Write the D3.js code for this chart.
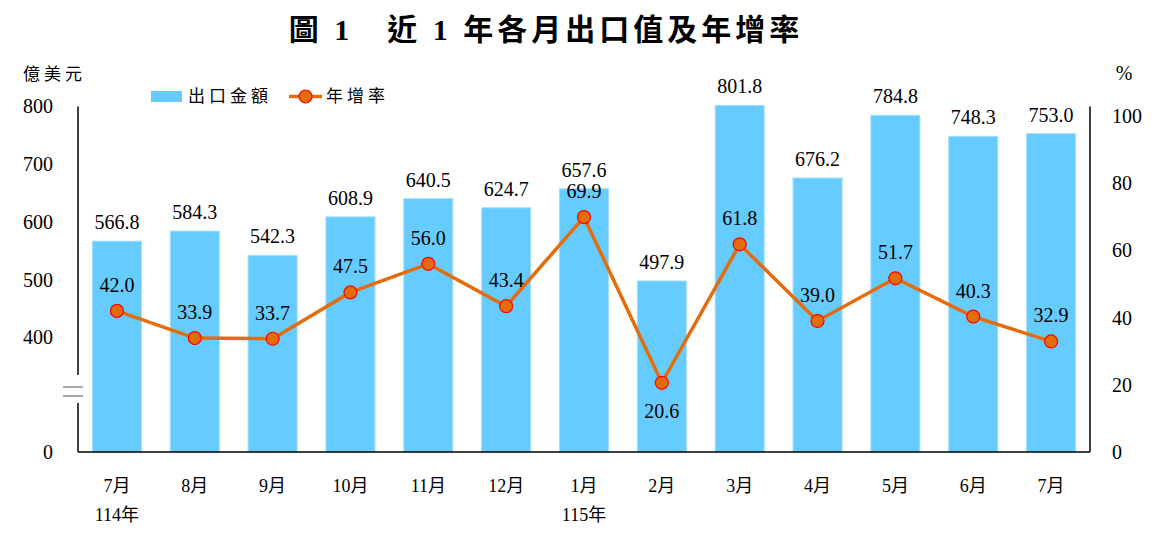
<!DOCTYPE html>
<html>
<head>
<meta charset="utf-8">
<script src="https://cdn.jsdelivr.net/npm/d3@7"></script>
<style>
  body { margin: 0; background: #fff; }
</style>
</head>
<body>
<div id="root"></div>
<script>
const months = ["7月", "8月", "9月", "10月", "11月", "12月", "1月", "2月", "3月", "4月", "5月", "6月", "7月"];
const years = ["114年", "", "", "", "", "", "115年", "", "", "", "", "", ""];
const exportValues = [566.8, 584.3, 542.3, 608.9, 640.5, 624.7, 657.6, 497.9, 801.8, 676.2, 784.8, 748.3, 753.0];
const growthRates = [42.0, 33.9, 33.7, 47.5, 56.0, 43.4, 69.9, 20.6, 61.8, 39.0, 51.7, 40.3, 32.9];
const leftTicks = [0, 400, 500, 600, 700, 800];
const rightTicks = [0, 20, 40, 60, 80, 100];

const w = 1152;
const h = 536;
const left = 78;
const right = 1090;
const bottom = 452;

const barColor = "#66CCFF";
const lineColor = "#E46C0A";
const font = "'Liberation Serif', 'Times New Roman', 'Noto Sans CJK TC', serif";

const svg = d3.select("#root")
    .append("svg")
    .attr("width", w)
    .attr("height", h)
    .style("font-family", font);

const x = d3.scaleBand()
    .domain(d3.range(months.length))
    .range([left, right])
    .paddingInner(0.37)
    .paddingOuter(0.185);

// broken axis: 0..400 squeezed into the bottom piece
const yLeft = d3.scaleLinear()
    .domain([0, 400, 800])
    .range([bottom, 337.5, 106.5]);

const yRight = d3.scaleLinear()
    .domain([0, 100])
    .range([bottom, 116]);

// title
svg.append("text")
    .attr("x", 546)
    .attr("y", 40)
    .attr("text-anchor", "middle")
    .style("font-family", font)
    .style("font-size", "30px")
    .style("font-weight", "bold")
    .style("letter-spacing", "4px")
    .text("圖 1　近 1 年各月出口值及年增率");

// unit labels
svg.append("text")
    .attr("x", 23)
    .attr("y", 80)
    .style("font-family", font)
    .style("font-size", "17px")
    .style("letter-spacing", "4px")
    .text("億美元");

svg.append("text")
    .attr("x", 1124)
    .attr("y", 80)
    .attr("text-anchor", "middle")
    .style("font-family", font)
    .style("font-size", "20px")
    .text("%");

// bars
svg.selectAll("rect.bar")
    .data(exportValues)
    .enter()
    .append("rect")
    .attr("class", "bar")
    .attr("x", (d, i) => x(i))
    .attr("y", d => yLeft(d))
    .attr("width", x.bandwidth())
    .attr("height", d => bottom - yLeft(d))
    .attr("fill", barColor)
    .attr("stroke", "#A6DEFA")
    .attr("stroke-width", 1);

// bar labels
svg.selectAll("text.barlabel")
    .data(exportValues)
    .enter()
    .append("text")
    .attr("class", "barlabel")
    .attr("x", (d, i) => x(i) + x.bandwidth() / 2)
    .attr("y", d => yLeft(d) - 12)
    .attr("text-anchor", "middle")
    .style("font-family", font)
    .style("font-size", "20px")
    .text(d => d.toFixed(1));

// axes
const axisL = d3.axisLeft(yLeft).tickValues(leftTicks).tickSize(0).tickPadding(25);
svg.append("g")
    .attr("transform", "translate(" + left + ",0)")
    .call(axisL)
    .call(g => g.select(".domain").remove())
    .call(g => g.selectAll("text").style("font-family", font).style("font-size", "20px").attr("fill", "#000"));

const axisR = d3.axisRight(yRight).tickValues(rightTicks).tickSize(0).tickPadding(22);
svg.append("g")
    .attr("transform", "translate(" + right + ",0)")
    .call(axisR)
    .call(g => g.select(".domain").remove())
    .call(g => g.selectAll("text").style("font-family", font).style("font-size", "20px").attr("fill", "#000"));

// axis lines with the break on the left
const axisLines = [
    [left, 106.5, left, 375],
    [left, 403, left, bottom],
    [right, 106.5, right, bottom],
    [left, bottom, right, bottom],
    [63, 387, 83, 387],
    [63, 396, 83, 396]
];
svg.selectAll("line.axis")
    .data(axisLines)
    .enter()
    .append("line")
    .attr("x1", d => d[0])
    .attr("y1", d => d[1])
    .attr("x2", d => d[2])
    .attr("y2", d => d[3])
    .attr("stroke", (d, i) => i >= 4 ? "#555" : "#000")
    .attr("stroke-width", (d, i) => i >= 4 ? 1 : 1.5);

// x labels
svg.selectAll("text.month")
    .data(months)
    .enter()
    .append("text")
    .attr("x", (d, i) => x(i) + x.bandwidth() / 2)
    .attr("y", 492)
    .attr("text-anchor", "middle")
    .style("font-family", font)
    .style("font-size", "18px")
    .text(d => d);

svg.selectAll("text.year")
    .data(years)
    .enter()
    .append("text")
    .attr("x", (d, i) => x(i) + x.bandwidth() / 2)
    .attr("y", 521)
    .attr("text-anchor", "middle")
    .style("font-family", font)
    .style("font-size", "18px")
    .text(d => d);

// growth line
const line = d3.line()
    .x((d, i) => x(i) + x.bandwidth() / 2)
    .y(d => yRight(d));

svg.append("path")
    .datum(growthRates)
    .attr("d", line)
    .attr("fill", "none")
    .attr("stroke", lineColor)
    .attr("stroke-width", 3.5);

svg.selectAll("circle.pt")
    .data(growthRates)
    .enter()
    .append("circle")
    .attr("cx", (d, i) => x(i) + x.bandwidth() / 2)
    .attr("cy", d => yRight(d))
    .attr("r", 6.5)
    .attr("fill", lineColor)
    .attr("stroke", "#FF0000")
    .attr("stroke-width", 1.2);

svg.selectAll("text.rate")
    .data(growthRates)
    .enter()
    .append("text")
    .attr("x", (d, i) => x(i) + x.bandwidth() / 2)
    .attr("y", (d, i) => i === 7 ? yRight(d) + 35 : yRight(d) - 19)
    .attr("text-anchor", "middle")
    .style("font-family", font)
    .style("font-size", "20px")
    .text(d => d.toFixed(1));

// legend
const legend = svg.append("g");
legend.append("rect")
    .attr("x", 151)
    .attr("y", 91)
    .attr("width", 31)
    .attr("height", 11)
    .attr("fill", barColor);
legend.append("text")
    .attr("x", 188)
    .attr("y", 102)
    .style("font-family", font)
    .style("font-size", "17px")
    .style("letter-spacing", "4px")
    .text("出口金額");
legend.append("line")
    .attr("x1", 289)
    .attr("x2", 322)
    .attr("y1", 96.5)
    .attr("y2", 96.5)
    .attr("stroke", lineColor)
    .attr("stroke-width", 3.5);
legend.append("circle")
    .attr("cx", 305.5)
    .attr("cy", 96.5)
    .attr("r", 6.5)
    .attr("fill", lineColor)
    .attr("stroke", "#FF0000")
    .attr("stroke-width", 1.2);
legend.append("text")
    .attr("x", 326)
    .attr("y", 102)
    .style("font-family", font)
    .style("font-size", "17px")
    .style("letter-spacing", "4px")
    .text("年增率");
</script>
</body>
</html>
